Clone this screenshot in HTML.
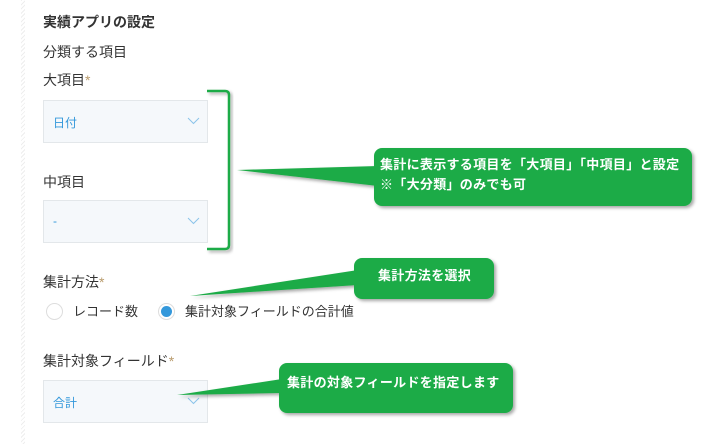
<!DOCTYPE html>
<html><head><meta charset="utf-8"><style>
body{margin:0;width:720px;height:444px;background:#fff;position:relative;overflow:hidden;font-family:"Liberation Sans","Noto Sans CJK JP",sans-serif;color:#333}
.t{position:absolute;white-space:nowrap;font-size:14px;line-height:16px}
.sel{position:absolute;left:43px;width:165px;height:43px;background:#f5f8fb;border:1px solid #e3e7ea;box-sizing:border-box}
.sel span{position:absolute;left:9px;top:13px;font-size:12px;color:#3498db}
.st{color:#b89a6b}
.c{position:absolute;color:#fff;font-weight:bold;font-size:13px;line-height:20px;white-space:nowrap;letter-spacing:0.3px}
</style></head><body>
<div style="position:absolute;left:21px;top:0;width:4px;height:444px;background:repeating-linear-gradient(135deg,#eee 0 1px,#fff 1px 3px)"></div>
<div class="t" style="left:43px;top:14px;font-weight:bold">実績アプリの設定</div>
<div class="t" style="left:43px;top:44px">分類する項目</div>
<div class="t" style="left:43px;top:72px">大項目<span class="st">*</span></div>
<div class="sel" style="top:100px"><span>日付</span></div>
<div class="t" style="left:43px;top:174px">中項目</div>
<div class="sel" style="top:200px"><span>-</span></div>
<div class="t" style="left:43px;top:274px">集計方法<span class="st">*</span></div>
<div style="position:absolute;left:46px;top:303px;width:17px;height:17px;border:1px solid #ddd;border-radius:50%;box-sizing:border-box"></div>
<div class="t" style="left:73px;top:304px;font-size:13px">レコード数</div>
<div style="position:absolute;left:158px;top:303px;width:17px;height:17px;border:1px solid #ddd;border-radius:50%;box-sizing:border-box;background:#fff"><div style="position:absolute;left:2px;top:2px;width:11px;height:11px;border-radius:50%;background:#3498db"></div></div>
<div class="t" style="left:185px;top:304px;font-size:13px">集計対象フィールドの合計値</div>
<div class="t" style="left:43px;top:353px">集計対象フィールド<span class="st">*</span></div>
<div class="sel" style="top:380px"><span>合計</span></div>
<svg width="720" height="444" style="position:absolute;left:0;top:0">
<defs><filter id="s" x="-10%" y="-20%" width="130%" height="150%"><feDropShadow dx="2" dy="2" stdDeviation="1.5" flood-color="#000" flood-opacity="0.35"/></filter></defs>
<g fill="none" stroke="#8cc4ea" stroke-width="1"><path d="M188 118l5.5 5.5 5.5-5.5M188 218l5.5 5.5 5.5-5.5M188 398l5.5 5.5 5.5-5.5"/></g>
<path d="M207 91h18q4 0 4 4v150q0 4-4 4h-18" fill="none" stroke="#1fab47" stroke-width="2.5" filter="url(#s)"/>
<g fill="#1fab47" filter="url(#s)">
<path d="M237 170L378 166L378 186Z"/>
<rect x="374" y="148" width="318" height="58" rx="8"/>
<path d="M190 296L358 270L358 285Z"/>
<rect x="354" y="258" width="140" height="41" rx="8"/>
<path d="M177 395L282 379L282 393Z"/>
<rect x="279" y="363" width="234" height="50" rx="8"/>
</g>
</svg>
<div class="c" style="left:380px;top:155px">集計に表示する項目を「大項目」「中項目」と設定<br>※「大分類」のみでも可</div>
<div class="c" style="left:378px;top:266px">集計方法を選択</div>
<div class="c" style="left:287px;top:373px">集計の対象フィールドを指定します</div>
</body></html>
